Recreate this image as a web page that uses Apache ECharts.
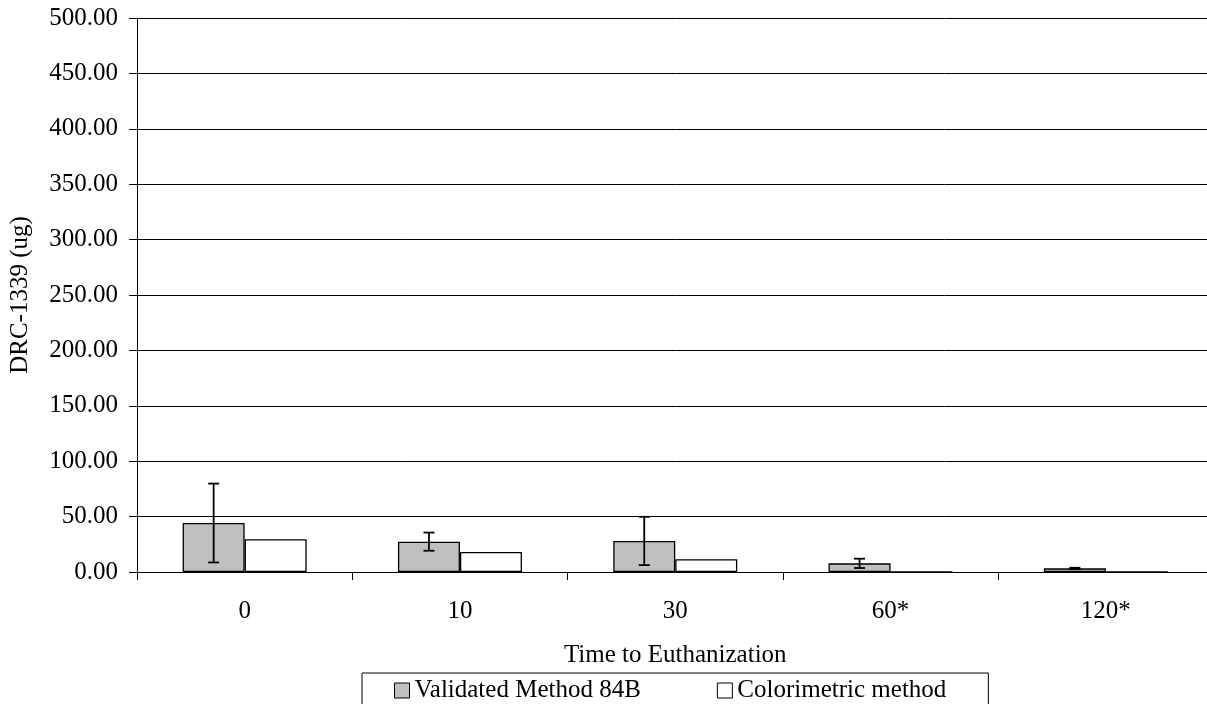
<!DOCTYPE html>
<html>
<head>
<meta charset="utf-8">
<script src="https://cdn.jsdelivr.net/npm/echarts@6/dist/echarts.min.js"></script>
<style>
html,body{margin:0;padding:0;background:#fff;overflow:hidden;width:1207px;height:704px;}
#chart{width:1214px;height:704px;}
</style>
</head>
<body>
<div id="chart"></div>
<script>
const categories = ['0', '10', '30', '60*', '120*'];
const validated = [44.2, 27.4, 28.0, 7.8, 3.3];
const colorimetric = [29.5, 18.1, 11.5, 0, 0];
const validatedErr = [35.6, 8.2, 21.8, 4.2, 0.5];
const yTicks = { min: 0, max: 500, interval: 50 };

const FONT = '"Liberation Serif", "Times New Roman", serif';
const BAR_W = 62;

const chart = echarts.init(document.getElementById('chart'));
const errData = categories.map((c, i) => [i, validated[i] - validatedErr[i], validated[i] + validatedErr[i]]);

chart.setOption({
  animation: false,
  backgroundColor: '#fff',
  textStyle: { fontFamily: FONT, color: '#000' },
  grid: { left: 136, right: 0.5, top: 18, bottom: 132, containLabel: false },
  legend: {
    left: 362, top: 673,
    padding: [5, 42, 12, 32],
    borderColor: '#000', borderWidth: 1,
    itemWidth: 15, itemHeight: 15, itemGap: 76,
    textStyle: { fontFamily: FONT, fontSize: 25, color: '#000' },
    data: [
      { name: 'Validated Method 84B', icon: 'rect', itemStyle: { color: '#c0c0c0', borderColor: '#000', borderWidth: 1 } },
      { name: 'Colorimetric method', icon: 'rect', itemStyle: { color: '#fff', borderColor: '#000', borderWidth: 1 } }
    ]
  },
  xAxis: {
    type: 'category',
    data: categories,
    name: 'Time to Euthanization',
    nameLocation: 'middle',
    nameGap: 71,
    nameTextStyle: { fontFamily: FONT, fontSize: 25, color: '#000' },
    axisLine: { lineStyle: { color: '#000', width: 1 } },
    axisTick: { show: true, alignWithLabel: false, length: 8, lineStyle: { color: '#000' } },
    axisLabel: { fontFamily: FONT, fontSize: 25, color: '#000', margin: 27 },
    splitLine: { show: false }
  },
  yAxis: {
    type: 'value',
    min: yTicks.min, max: yTicks.max, interval: yTicks.interval,
    name: 'DRC-1339 (ug)',
    nameLocation: 'middle',
    nameGap: 104,
    nameTextStyle: { fontFamily: FONT, fontSize: 25, color: '#000' },
    axisLine: { show: true, lineStyle: { color: '#000', width: 1 } },
    axisTick: { show: true, length: 8, lineStyle: { color: '#000' } },
    axisLabel: { fontFamily: FONT, fontSize: 25, color: '#000', margin: 19, formatter: v => v.toFixed(2) },
    splitLine: { show: true, lineStyle: { color: '#000', width: 1 } }
  },
  series: [
    {
      name: 'Validated Method 84B', type: 'bar', data: validated,
      barWidth: BAR_W, barGap: '0%',
      itemStyle: { color: '#c0c0c0', borderColor: '#000', borderWidth: 1.3 }
    },
    {
      name: 'Colorimetric method', type: 'bar', data: colorimetric,
      barWidth: BAR_W, barGap: '0%',
      itemStyle: { color: '#fff', borderColor: '#000', borderWidth: 1.3 }
    },
    {
      type: 'custom',
      data: errData,
      z: 10,
      renderItem: function (params, api) {
        const idx = api.value(0);
        const lo = api.coord([idx, api.value(1)]);
        const hi = api.coord([idx, api.value(2)]);
        const x = lo[0] - BAR_W / 2;
        const cap = 5.5;
        const style = { stroke: '#000', lineWidth: 1.8 };
        return {
          type: 'group',
          children: [
            { type: 'line', shape: { x1: x, y1: lo[1], x2: x, y2: hi[1] }, style },
            { type: 'line', shape: { x1: x - cap, y1: hi[1], x2: x + cap, y2: hi[1] }, style },
            { type: 'line', shape: { x1: x - cap, y1: lo[1], x2: x + cap, y2: lo[1] }, style }
          ]
        };
      }
    }
  ]
});
</script>
</body>
</html>
